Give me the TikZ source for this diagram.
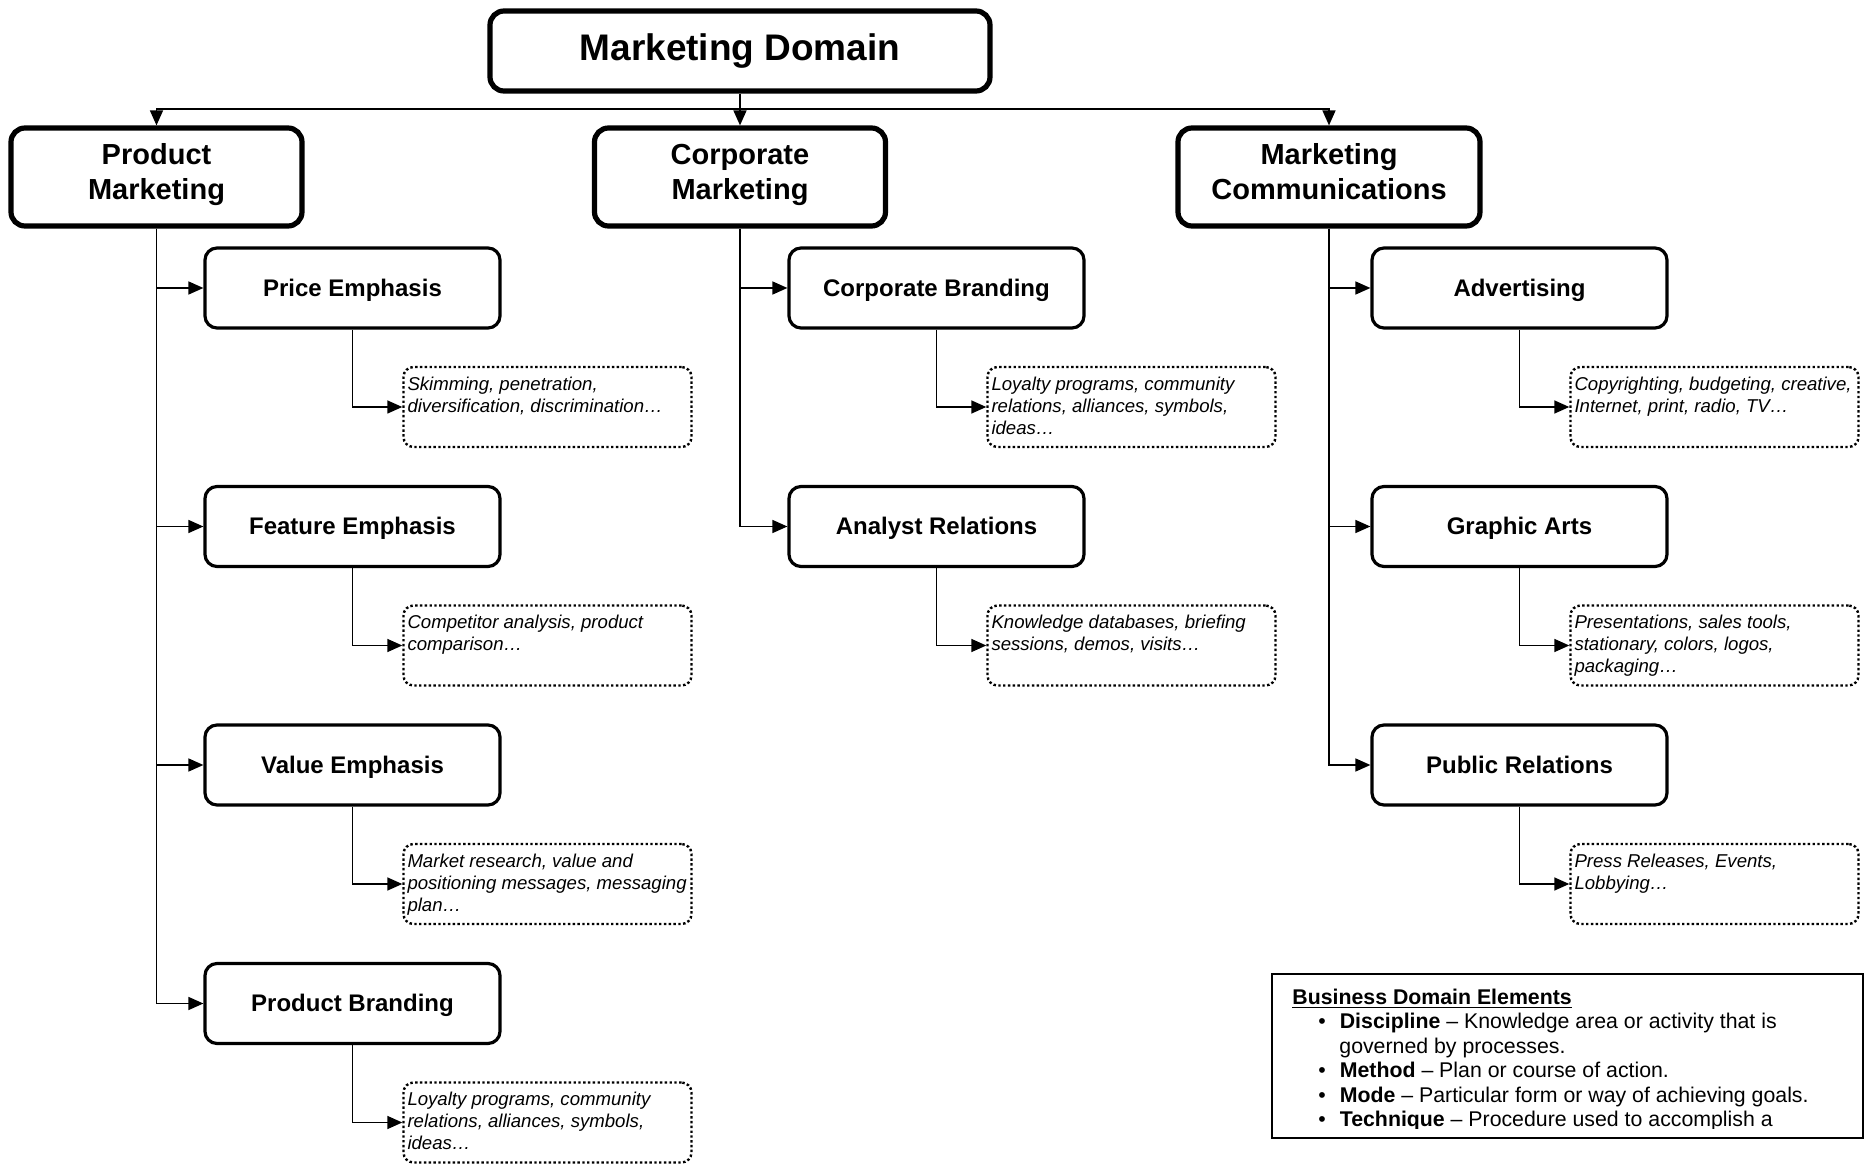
\documentclass[tikz,border=0pt]{standalone}
\usepackage{fontspec}
\setmainfont{Liberation Sans}
\usetikzlibrary{arrows.meta}
\tikzstyle{topbox}=[draw,line width=2.6pt,rounded corners=7pt,minimum width=250pt,minimum height=40pt,font=\fontsize{18.5}{22}\selectfont\bfseries]
\tikzstyle{areabox}=[draw,line width=2.6pt,rounded corners=7pt,minimum width=145.5pt,minimum height=49pt,inner sep=0pt,font=\fontsize{14.5}{17.25}\selectfont\bfseries]
\tikzstyle{subbox}=[draw,line width=1.6pt,rounded corners=6pt,minimum width=147.5pt,minimum height=40pt,text height=10.8pt,text depth=2.5pt,font=\fontsize{12}{14}\selectfont\bfseries]
\tikzstyle{notebox}=[draw,line width=1.2pt,dash pattern=on 1.2pt off 1.2pt,rounded corners=5pt,inner xsep=2pt,inner ysep=5pt,font=\fontsize{9.3}{11}\selectfont\itshape]
\tikzstyle{edge}=[draw,line width=0.75pt,-{Triangle[length=7.5pt,width=6.5pt]}]
\tikzstyle{keybox}=[draw,line width=1pt,minimum width=295.5pt,minimum height=82pt,inner sep=0pt]
\tikzstyle{keytext}=[align=left,inner sep=0pt,font=\fontsize{10.65}{12.2}\selectfont]
\newcommand{\arealabel}[2]{\parbox[c][49pt][t]{140pt}{\centering\rule{0pt}{18.3pt}#1\\#2}}
\newcommand{\notetext}[1]{\parbox[c][30pt][t]{140pt}{\raggedright #1}}

\begin{document}
\begin{tikzpicture}[x=0.5pt,y=-0.5pt]
    \node[topbox] (md) at (740,51) {Marketing Domain};

    \node[areabox] (pm) at (156.5,177) {\arealabel{Product}{Marketing}};
    \node[areabox] (cm) at (740,177) {\arealabel{Corporate}{Marketing}};
    \node[areabox,minimum width=151pt] (mc) at (1329,177) {\arealabel{Marketing}{Communications}};

    \coordinate (bus) at (740,109);
    \path[edge] (md) -- (cm);
    \path[edge] (bus) -| (pm.north);
    \path[edge] (bus) -| (mc.north);

    % product marketing
    \node[subbox] (pe) at (352.5,288) {Price Emphasis};
    \node[subbox] (fe) at (352.5,526.5) {Feature Emphasis};
    \node[subbox] (ve) at (352.5,765) {Value Emphasis};
    \node[subbox] (pb) at (352.5,1003.5) {Product Branding};
    \node[notebox] (pe-n) at (547.5,407) {\notetext{Skimming, penetration,\\diversification, discrimination…}};
    \node[notebox] (fe-n) at (547.5,645.5) {\notetext{Competitor analysis, product\\comparison…}};
    \node[notebox] (ve-n) at (547.5,884) {\notetext{Market research, value and\\positioning messages, messaging\\plan…}};
    \node[notebox] (pb-n) at (547.5,1122.5) {\notetext{Loyalty programs, community\\relations, alliances, symbols,\\ideas…}};

    \path[edge] (pm.south) |- (pe.west);
    \path[edge] (pm.south) |- (fe.west);
    \path[edge] (pm.south) |- (ve.west);
    \path[edge] (pm.south) |- (pb.west);
    \path[edge] (pe.south) |- (pe-n.west);
    \path[edge] (fe.south) |- (fe-n.west);
    \path[edge] (ve.south) |- (ve-n.west);
    \path[edge] (pb.south) |- (pb-n.west);

    % corporate marketing
    \node[subbox] (cb) at (936.5,288) {Corporate Branding};
    \node[subbox] (ar) at (936.5,526.5) {Analyst Relations};
    \node[notebox] (cb-n) at (1131.5,407) {\notetext{Loyalty programs, community\\relations, alliances, symbols,\\ideas…}};
    \node[notebox] (ar-n) at (1131.5,645.5) {\notetext{Knowledge databases, briefing\\sessions, demos, visits…}};

    \path[edge] (cm.south) |- (cb.west);
    \path[edge] (cm.south) |- (ar.west);
    \path[edge] (cb.south) |- (cb-n.west);
    \path[edge] (ar.south) |- (ar-n.west);

    % marketing communications
    \node[subbox] (ad) at (1519.5,288) {Advertising};
    \node[subbox] (ga) at (1519.5,526.5) {Graphic Arts};
    \node[subbox] (pr) at (1519.5,765) {Public Relations};
    \node[notebox] (ad-n) at (1714.5,407) {\notetext{Copyrighting, budgeting, creative,\\Internet, print, radio, TV…}};
    \node[notebox] (ga-n) at (1714.5,645.5) {\notetext{Presentations, sales tools,\\stationary, colors, logos,\\packaging…}};
    \node[notebox] (pr-n) at (1714.5,884) {\notetext{Press Releases, Events,\\Lobbying…}};

    \path[edge] (mc.south) |- (ad.west);
    \path[edge] (mc.south) |- (ga.west);
    \path[edge] (mc.south) |- (pr.west);
    \path[edge] (ad.south) |- (ad-n.west);
    \path[edge] (ga.south) |- (ga-n.west);
    \path[edge] (pr.south) |- (pr-n.west);

    % legend
    \node[keybox,anchor=north west] (key) at (1271,973) {};
    \begin{scope}
        \clip (key.north west) rectangle ([yshift=5.5pt]key.south east);
        \node[keytext,anchor=north west] (key-t) at ([xshift=10.5pt,yshift=-7.8pt]key.north west) {\underline{\textbf{Business Domain Elements}}\\
            \hspace*{13pt}\textbullet\hspace{7pt}\textbf{Discipline} \textendash{} Knowledge area or activity that is\\
            \hspace*{23.5pt}governed by processes.\\
            \hspace*{13pt}\textbullet\hspace{7pt}\textbf{Method} \textendash{} Plan or course of action.\\
            \hspace*{13pt}\textbullet\hspace{7pt}\textbf{Mode} \textendash{} Particular form or way of achieving goals.\\
            \hspace*{13pt}\textbullet\hspace{7pt}\textbf{Technique} \textendash{} Procedure used to accomplish a};
    \end{scope}

    \pgfresetboundingbox
    \path[use as bounding box] (0,0) rectangle (1865,1165);
\end{tikzpicture}
\end{document}
